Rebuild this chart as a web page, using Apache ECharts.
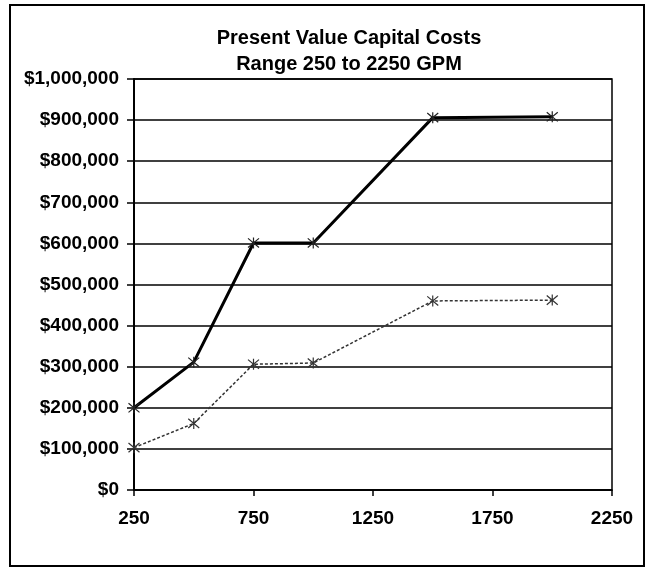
<!DOCTYPE html>
<html>
<head>
<meta charset="utf-8">
<script src="https://cdn.jsdelivr.net/npm/echarts@6/dist/echarts.min.js"></script>
<style>
	html, body { margin:0; padding:0; background:#fff; }
	#chart { width:645px; height:567px; }
</style>
</head>
<body>
<div id="chart"></div>
<script>
// flow rates (GPM) and present value capital costs
var flows = [250, 500, 750, 1000, 1500, 2000];
var upperCost = [200000, 311000, 601000, 601000, 906000, 908000];
var lowerCost = [103000, 162000, 306000, 309000, 460000, 462000];
var xTicks = [250, 750, 1250, 1750, 2250];

window.onload = function(){
	var myChart = echarts.init(document.getElementById('chart'));
	var font = '"Liberation Sans", Arial, sans-serif';
	// asterisk-like star marker
	var star = 'path://M0,0L10,10M10,0L0,10M5,-1L5,11M5,5L5,5';

	function pairs(ys){
		return flows.map(function(x, i){ return [x, ys[i]]; });
	}

	var option = {
		backgroundColor:'#fff',
		title:{
			text:'Present Value Capital Costs\nRange 250 to 2250 GPM',
			left:344,
			top:20,
			textAlign:'center',
			textStyle:{
				fontFamily:font,
				fontWeight:'bold',
				fontSize:20,
				lineHeight:26,
				color:'#000'
			}
		},
		graphic:[{
			type:'rect',
			shape:{ x:10, y:5, width:634, height:561 },
			style:{ fill:'none', stroke:'#000', lineWidth:2 },
			silent:true
		}],
		grid:{
			show:true,
			left:134,
			right:33,
			top:79,
			bottom:77,
			backgroundColor:'transparent',
			borderColor:'#000',
			borderWidth:1.5
		},
		xAxis:{
			type:'value',
			min:xTicks[0],
			max:xTicks[xTicks.length - 1],
			interval:500,
			splitLine:{ show:false },
			axisLine:{ lineStyle:{ color:'#000', width:1.5 } },
			axisTick:{ show:true, length:6, lineStyle:{ color:'#000', width:1.5 } },
			axisLabel:{
				margin:19,
				color:'#000',
				fontFamily:font,
				fontWeight:'bold',
				fontSize:19,
				formatter:function(v){ return String(v); }
			}
		},
		yAxis:{
			type:'value',
			min:0,
			max:1000000,
			interval:100000,
			axisLine:{ show:true, lineStyle:{ color:'#000', width:2 } },
			axisTick:{ show:true, length:7, lineStyle:{ color:'#000', width:1.5 } },
			splitLine:{ lineStyle:{ color:'#000', width:1.5 } },
			axisLabel:{
				margin:15,
				color:'#000',
				fontFamily:font,
				fontWeight:'bold',
				fontSize:19,
				formatter:function(v){ return '$' + v.toLocaleString('en-US'); }
			}
		},
		series:[{
			type:'line',
			data:pairs(upperCost),
			symbol:star,
			symbolSize:11,
			lineStyle:{ color:'#000', width:3 },
			itemStyle:{ color:'#fff', borderColor:'#222', borderWidth:1.2 }
		},{
			type:'line',
			data:pairs(lowerCost),
			symbol:star,
			symbolSize:11,
			lineStyle:{ color:'#333', width:1.5, type:[3,2] },
			itemStyle:{ color:'#fff', borderColor:'#333', borderWidth:1.2 }
		}]
	};
	myChart.setOption(option);
	window.addEventListener('resize',function(){
		myChart.resize()
	})
}
</script>
</body>
</html>
